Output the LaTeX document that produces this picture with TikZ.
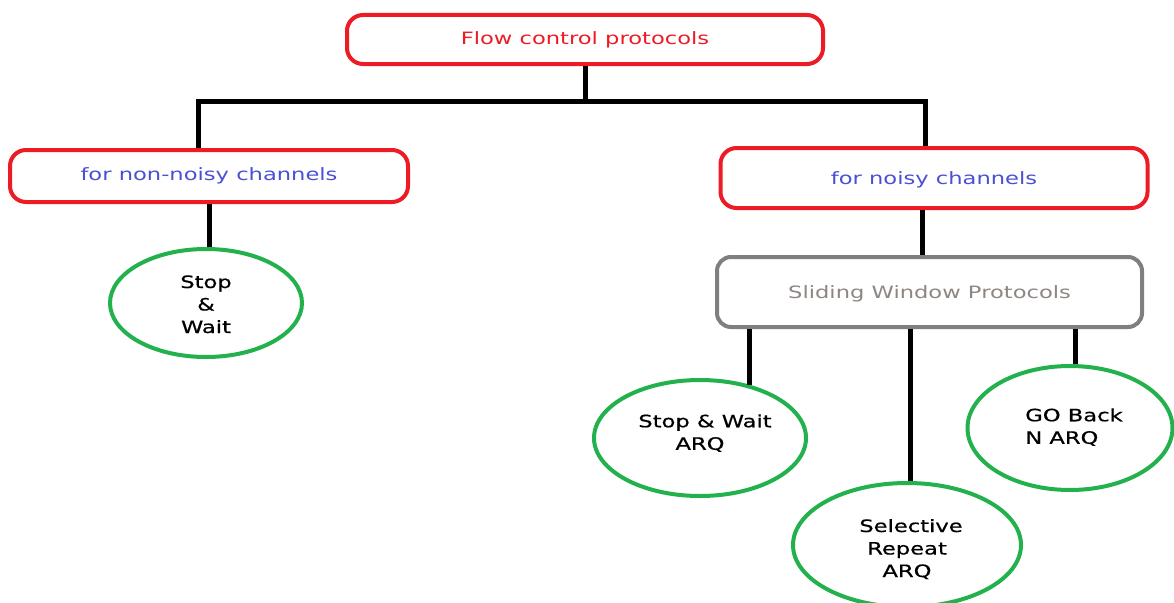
\documentclass[tikz,border=0pt]{standalone}
\usepackage{fontspec}
\setmainfont{DejaVu Sans}[FakeStretch=1.33]
\newfontfamily\heavyfont{DejaVu Sans}[FakeStretch=1.33,FakeBold=0.6]
\usetikzlibrary{shapes.geometric}
\definecolor{boxred}{HTML}{ED1C24}
\definecolor{txtblue}{HTML}{4A50D6}
\definecolor{ovgreen}{HTML}{22B14C}
\definecolor{boxgray}{HTML}{7F7F7F}
\definecolor{txtgray}{HTML}{8E8682}
\newcommand{\shiftbox}[2]{\raisebox{#1}[\height][\depth]{#2}}
\tikzset{
  redbox/.style={draw=boxred, line width=4pt, rounded corners=16pt, fill=white, inner sep=0pt},
  graybox/.style={draw=boxgray, line width=4pt, rounded corners=14pt, fill=white, inner sep=0pt,
     text=txtgray},
  oval/.style={ellipse, draw=ovgreen, line width=4pt, inner sep=0pt, align=center,
     font=\heavyfont\fontsize{17}{22.5}\selectfont},
  conn/.style={line width=5pt, draw=black},
  every node/.style={font=\fontsize{17}{22.5}\selectfont}
}
\begin{document}
\begin{tikzpicture}[x=1pt,y=-1pt]
\useasboundingbox (0,0) rectangle (1174,602);
\fill[white] (0,0) rectangle (1174,602);

\coordinate (jt) at (585,101);
\coordinate (jl) at (198,101);
\coordinate (jr) at (925,101);

\node[redbox, minimum width=476pt, minimum height=49pt, text=boxred] (top) at (585,39.5) {Flow control protocols};
\node[redbox, minimum width=398pt, minimum height=52pt, text=txtblue] (nonnoisy) at (209,176) {for non-noisy channels};
\node[redbox, minimum width=427pt, minimum height=60pt, text=txtblue] (noisy) at (934,178) {\shiftbox{-2pt}{for noisy channels}};
\node[graybox, minimum width=425pt, minimum height=70pt] (swp) at (929.5,292) {\shiftbox{-2pt}{Sliding Window Protocols}};

\node[oval, minimum width=192pt, minimum height=108pt] (sw) at (206,303) {\shiftbox{-3pt}{\begin{tabular}{@{}c@{}}Stop\\\&\\Wait\end{tabular}}};
\node[oval, minimum width=212pt, minimum height=116pt] (arq1) at (700,438) {\shiftbox{4pt}{\begin{tabular}{@{}c@{}}\hspace*{10pt}Stop \& Wait\\ARQ\end{tabular}}};
\node[oval, minimum width=228pt, minimum height=124pt] (arq2) at (907,545) {\shiftbox{-5pt}{\begin{tabular}{@{}c@{}}\hspace*{8pt}Selective\\Repeat\\ARQ\end{tabular}}};
\node[oval, minimum width=205pt, minimum height=124pt] (arq3) at (1070,428) {\hspace*{8pt}\begin{tabular}{@{}l@{}}GO Back\\N ARQ\end{tabular}};

\coordinate (a1) at (arq1.47);
\coordinate (n2) at ([xshift=-12pt]noisy.south);

\draw[conn] (top.south) -- (jt);
\draw[conn, line cap=rect] (jl) -- (jr);
\draw[conn] (jl) -- (jl |- nonnoisy.north);
\draw[conn] (jr) -- (jr |- noisy.north);
\draw[conn] (nonnoisy.south) -- (nonnoisy.south |- sw.north);
\draw[conn] (n2) -- (n2 |- swp.north);
\draw[conn] (a1 |- swp.south) -- (a1);
\draw[conn] ([xshift=3pt]arq2.north |- swp.south) -- ([xshift=3pt]arq2.north);
\draw[conn] ([xshift=5pt]arq3.north |- swp.south) -- ([xshift=5pt]arq3.north);
\end{tikzpicture}
\end{document}
